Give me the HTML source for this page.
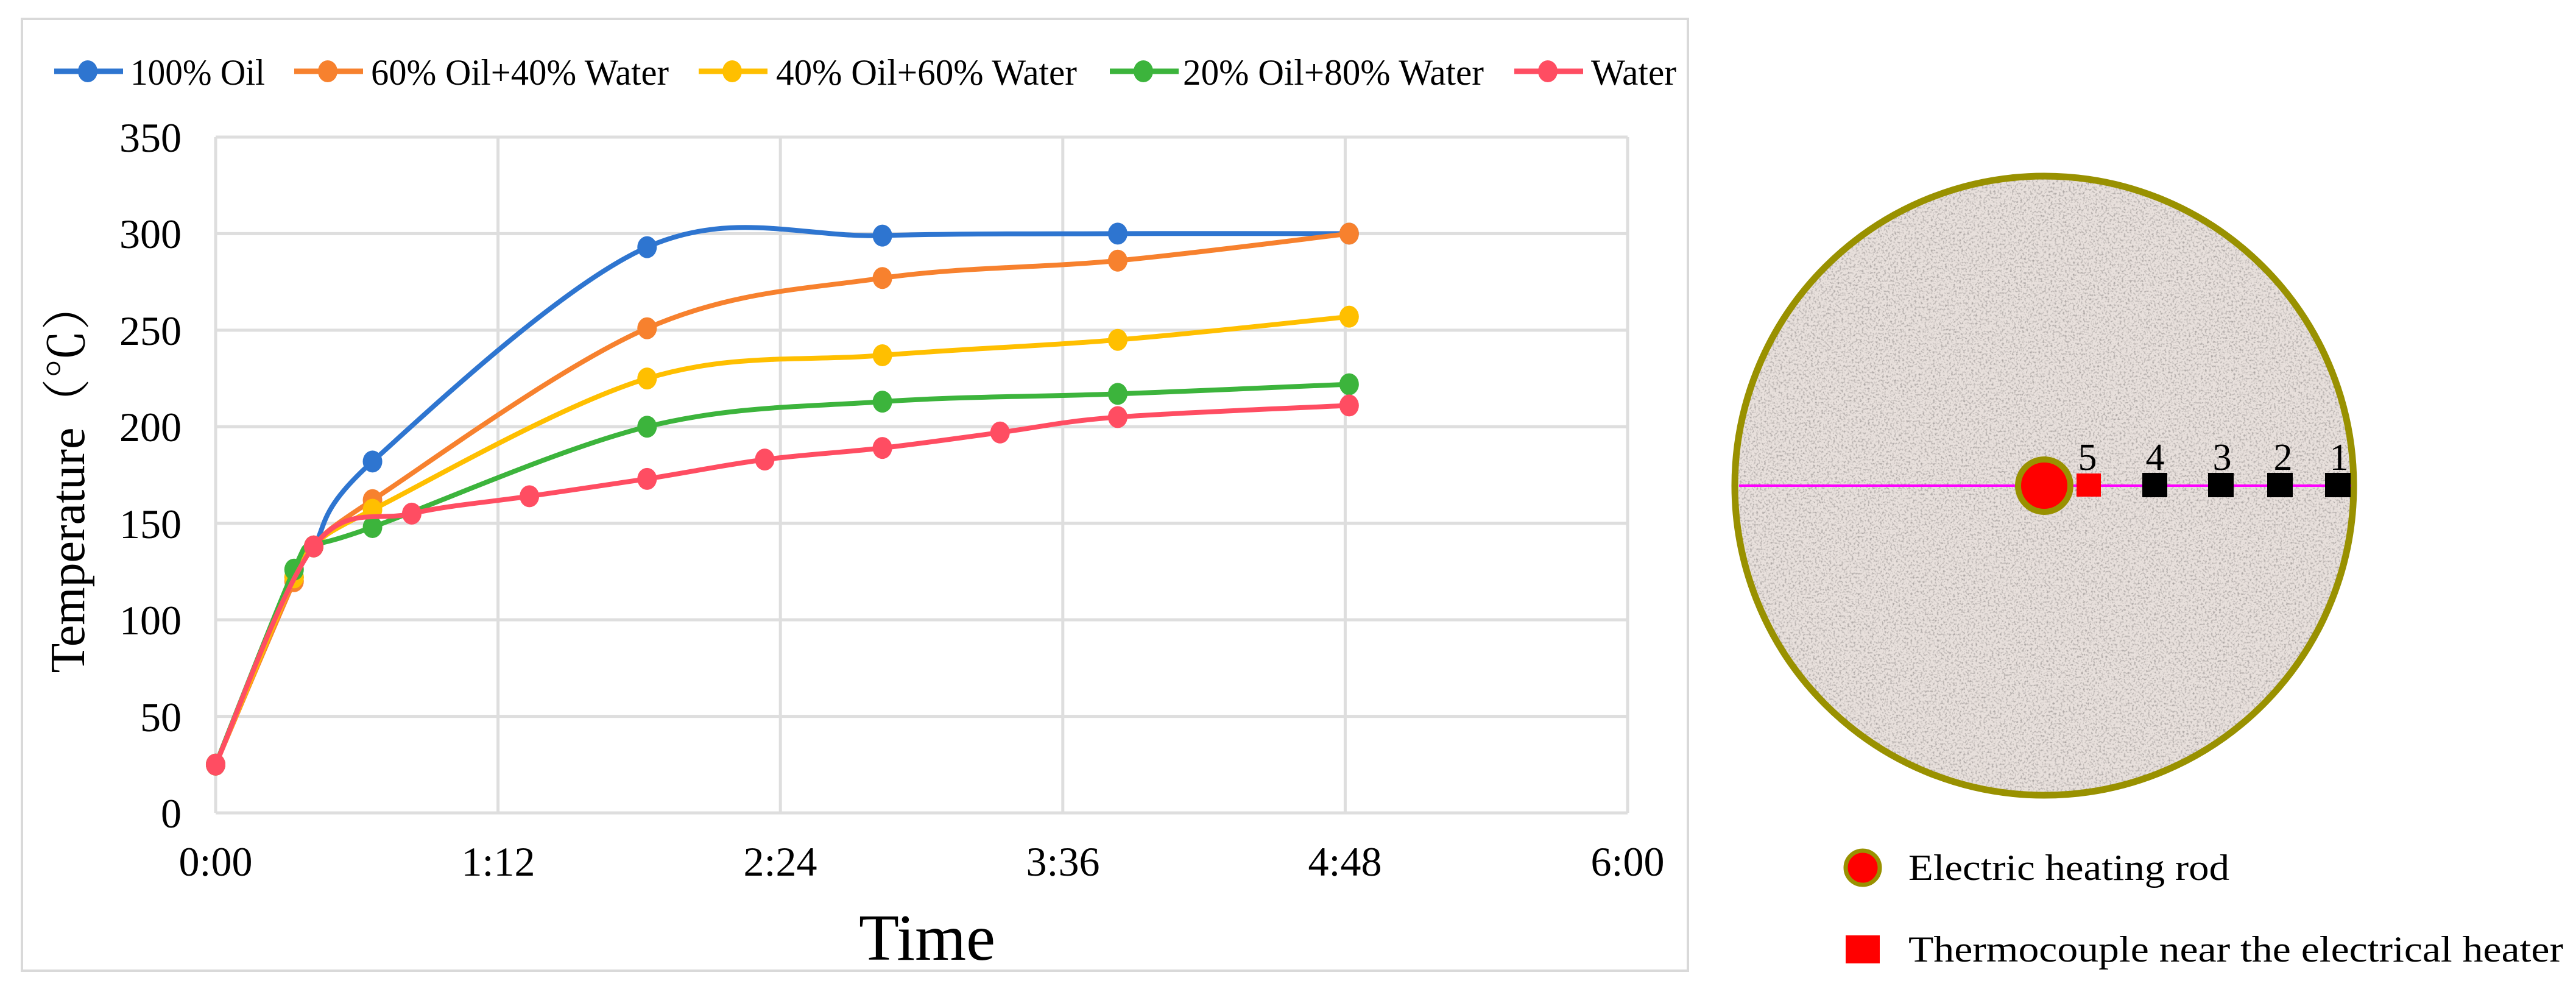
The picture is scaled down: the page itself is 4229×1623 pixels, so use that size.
<!DOCTYPE html>
<html><head><meta charset="utf-8"><style>
html,body{margin:0;padding:0;background:#fff;}
svg{display:block;font-family:"Liberation Serif",serif;}
</style></head><body>
<svg id="chart" width="4229" height="1623" viewBox="0 0 4229 1623" xmlns="http://www.w3.org/2000/svg">
<defs>
<filter id="speckle" x="0" y="0" width="100%" height="100%">
<feTurbulence type="fractalNoise" baseFrequency="0.3" numOctaves="2" seed="3" result="n"/>
<feColorMatrix in="n" type="matrix" values="0 0 0 0 0.4  0 0 0 0 0.37  0 0 0 0 0.36  0 0 0 -3 1.55" result="dots"/>
<feComposite in="dots" in2="SourceGraphic" operator="in"/>
</filter>
</defs>
<rect x="36" y="31" width="2735" height="1562" fill="#fff" stroke="#d9d9d9" stroke-width="4"/>
<g id="grid"></g>
<g id="series"></g>

<g>
<text x="298" y="1358" font-size="68" text-anchor="end" font-family="Liberation Serif">0</text>
<text x="298" y="1200" font-size="68" text-anchor="end" font-family="Liberation Serif">50</text>
<text x="298" y="1041" font-size="68" text-anchor="end" font-family="Liberation Serif">100</text>
<text x="298" y="883" font-size="68" text-anchor="end" font-family="Liberation Serif">150</text>
<text x="298" y="724" font-size="68" text-anchor="end" font-family="Liberation Serif">200</text>
<text x="298" y="566" font-size="68" text-anchor="end" font-family="Liberation Serif">250</text>
<text x="298" y="407" font-size="68" text-anchor="end" font-family="Liberation Serif">300</text>
<text x="298" y="249" font-size="68" text-anchor="end" font-family="Liberation Serif">350</text>
</g>
<g>
<text x="354" y="1437" font-size="68" text-anchor="middle" font-family="Liberation Serif">0:00</text>
<text x="818" y="1437" font-size="68" text-anchor="middle" font-family="Liberation Serif">1:12</text>
<text x="1281" y="1437" font-size="68" text-anchor="middle" font-family="Liberation Serif">2:24</text>
<text x="1745" y="1437" font-size="68" text-anchor="middle" font-family="Liberation Serif">3:36</text>
<text x="2208" y="1437" font-size="68" text-anchor="middle" font-family="Liberation Serif">4:48</text>
<text x="2672" y="1437" font-size="68" text-anchor="middle" font-family="Liberation Serif">6:00</text>
</g>
<g id="legend"></g>
<g>
<text x="214" y="139" font-size="60" font-family="Liberation Serif" textLength="221" lengthAdjust="spacingAndGlyphs">100% Oil</text>
<text x="609" y="139" font-size="60" font-family="Liberation Serif" textLength="489" lengthAdjust="spacingAndGlyphs">60% Oil+40% Water</text>
<text x="1274" y="139" font-size="60" font-family="Liberation Serif" textLength="494" lengthAdjust="spacingAndGlyphs">40% Oil+60% Water</text>
<text x="1942" y="139" font-size="60" font-family="Liberation Serif" textLength="494" lengthAdjust="spacingAndGlyphs">20% Oil+80% Water</text>
<text x="2612" y="139" font-size="60" font-family="Liberation Serif" textLength="140" lengthAdjust="spacingAndGlyphs">Water</text>
</g>
<text x="138" y="783" font-size="80" text-anchor="middle" transform="rotate(-90 138 783)" style="font-family:'Liberation Serif','Noto Serif CJK SC',serif">Temperature（℃）</text>
<text x="1522" y="1575" font-size="108" text-anchor="middle">Time</text>

<g>
<circle cx="3356" cy="797" r="508" fill="#e8e0dc"/>
<circle cx="3356" cy="797" r="508" fill="#fff" filter="url(#speckle)"/>
<circle cx="3356" cy="797" r="508" fill="none" stroke="#999100" stroke-width="11"/>
<line x1="2855" y1="797" x2="3860" y2="797" stroke="#ff00ff" stroke-width="4"/>
<circle cx="3356" cy="797" r="43" fill="#ff0000" stroke="#999100" stroke-width="10"/>
<rect x="3409" y="777" width="40" height="38" fill="#ff0000"/>
<rect x="3517" y="776" width="41" height="40" fill="#000"/>
<rect x="3625" y="776" width="42" height="40" fill="#000"/>
<rect x="3722" y="776" width="42" height="40" fill="#000"/>
<rect x="3817" y="776" width="42" height="40" fill="#000"/>
<g font-size="62" text-anchor="middle">
<text x="3427" y="771">5</text>
<text x="3538" y="771">4</text>
<text x="3648" y="771">3</text>
<text x="3748" y="771">2</text>
<text x="3840" y="771">1</text>
</g>
<circle cx="3058" cy="1424" r="28" fill="#ff0000" stroke="#999100" stroke-width="7"/>
<text x="3133" y="1444" font-size="60" textLength="527" lengthAdjust="spacingAndGlyphs">Electric heating rod</text>
<rect x="3030" y="1535" width="56" height="46" fill="#ff0000"/>
<text x="3133" y="1578" font-size="60" textLength="1075" lengthAdjust="spacingAndGlyphs">Thermocouple near the electrical heater</text>
</g>
</svg>
<script>
const seriesNames = ["100% Oil","60% Oil+40% Water","40% Oil+60% Water","20% Oil+80% Water","Water"];
const seriesColors = ["#2e75d0","#f7812e","#ffbf00","#3cb43c","#ff4d62"];
const oilTimes = [0,20,25,40,110,170,230,289];
const oilTemps = [25,122,138,182,293,299,300,300];
const mix64Times = [0,20,25,40,110,170,230,289];
const mix64Temps = [25,120,138,162,251,277,286,300];
const mix46Times = [0,20,25,40,110,170,230,289];
const mix46Temps = [25,122,138,157,225,237,245,257];
const mix28Times = [0,20,25,40,110,170,230,289];
const mix28Temps = [25,126,138,148,200,213,217,222];
const waterTimes = [0,25,50,80,110,140,170,200,230,289];
const waterTemps = [25,138,155,164,173,183,189,197,205,211];
const yTicks = [0,50,100,150,200,250,300,350];
const xTickMinutes = [0,72,144,216,288,360];

const NS="http://www.w3.org/2000/svg";
const X0=354,X1=2672,Y0=1334,Y1=225;
function xs(t){return X0+(t/360)*(X1-X0);}
function ys(v){return Y0-(v/350)*(Y0-Y1);}
function mk(tag,attrs,parent){const e=document.createElementNS(NS,tag);for(const k in attrs)e.setAttribute(k,attrs[k]);parent.appendChild(e);return e;}

const grid=document.getElementById('grid');
yTicks.forEach(v=>{
  const l=mk('line',{x1:X0,x2:X1,y1:ys(v),y2:ys(v),stroke:'#dedede','stroke-width':5},grid);
  
  
});
xTickMinutes.forEach(t=>{
  const l=mk('line',{x1:xs(t),x2:xs(t),y1:Y1,y2:Y0,stroke:'#dedede','stroke-width':5},grid);
  
  
});

function smoothPath(pts){
  let d=`M${pts[0][0]},${pts[0][1]}`;
  for(let i=0;i<pts.length-1;i++){
    const p0=pts[i-1]||pts[i],p1=pts[i],p2=pts[i+1],p3=pts[i+2]||p2;
    const c1=[p1[0]+(p2[0]-p0[0])/6,p1[1]+(p2[1]-p0[1])/6];
    const c2=[p2[0]-(p3[0]-p1[0])/6,p2[1]-(p3[1]-p1[1])/6];
    d+=` C${c1[0]},${c1[1]} ${c2[0]},${c2[1]} ${p2[0]},${p2[1]}`;
  }
  return d;
}
const allTimes=[oilTimes,mix64Times,mix46Times,mix28Times,waterTimes];
const allTemps=[oilTemps,mix64Temps,mix46Temps,mix28Temps,waterTemps];
const sg=document.getElementById('series');
for(let s=0;s<5;s++){
  const g=mk('g',{},sg);
  
  
  const pts=allTimes[s].map((t,i)=>[xs(t),ys(allTemps[s][i])]);
  const p=mk('path',{d:smoothPath(pts),fill:'none',stroke:seriesColors[s],'stroke-width':8,'stroke-linejoin':'round'},g);
  
  
  pts.forEach(pt=>{
    const c=mk('ellipse',{cx:pt[0],cy:pt[1],rx:16,ry:18,fill:seriesColors[s]},g);
    
    
  });
}
const legendLineX=[89,483,1147,1822,2486];
const lg=document.getElementById('legend');
for(let s=0;s<5;s++){
  const g=mk('g',{},lg);
  
  
  mk('line',{x1:legendLineX[s],x2:legendLineX[s]+113,y1:117,y2:117,stroke:seriesColors[s],'stroke-width':9},g);
  mk('ellipse',{cx:legendLineX[s]+55,cy:117,rx:16,ry:18,fill:seriesColors[s]},g);
}
</script>
</body></html>
